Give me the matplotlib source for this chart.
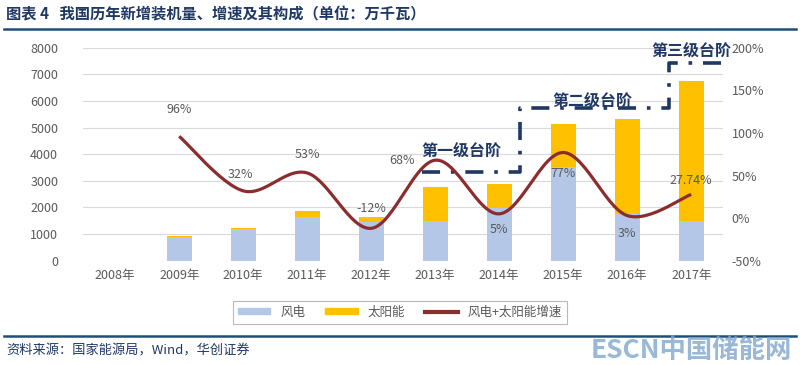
import numpy as np
import matplotlib.pyplot as plt
from matplotlib.lines import Line2D
from matplotlib.patches import Patch

plt.rcParams['font.family'] = ['Noto Sans CJK SC', 'DejaVu Sans']

years = ["2008年", "2009年", "2010年", "2011年", "2012年",
         "2013年", "2014年", "2015年", "2016年", "2017年"]
wind = [0, 900, 1190, 1650, 1465, 1490, 1966, 3530, 1740, 1490]
solar = [0, 20, 40, 215, 165, 1266, 926, 1590, 3570, 5270]
growth = [None, 96, 32, 53, -12, 68, 5, 77, 3, 27.74]
growth_labels = ["", "96%", "32%", "53%", "-12%", "68%", "5%", "77%", "3%", "27.74%"]

C_WIND = "#B4C7E7"
C_SOLAR = "#FFC000"
C_LINE = "#8B2D2D"
C_NAVY = "#1F3864"
C_TXT = "#595959"


def catmull_rom(xs, ys, n=30):
    # smooth curve through the points, like Excel's smoothed line
    px = [xs[0]] + list(xs) + [xs[-1]]
    py = [ys[0]] + list(ys) + [ys[-1]]
    out_x, out_y = [], []
    for i in range(1, len(px) - 2):
        t = np.linspace(0, 1, n)
        p0, p1, p2, p3 = [np.array([px[k], py[k]]) for k in range(i - 1, i + 3)]
        c1 = p1 + (p2 - p0) / 6
        c2 = p2 - (p3 - p1) / 6
        pts = ((1 - t) ** 3)[:, None] * p1 + (3 * (1 - t) ** 2 * t)[:, None] * c1 \
            + (3 * (1 - t) * t ** 2)[:, None] * c2 + (t ** 3)[:, None] * p2
        out_x.extend(pts[:, 0])
        out_y.extend(pts[:, 1])
    return out_x, out_y


fig = plt.figure(figsize=(8, 3.65), dpi=100)
ax = fig.add_axes([0.104, 0.2857, 0.80, 0.5836])
ax2 = ax.twinx()

x = np.arange(len(years))
ax.bar(x, wind, width=0.39, color=C_WIND, zorder=2)
ax.bar(x, solar, width=0.39, bottom=wind, color=C_SOLAR, zorder=2)

ax.set_ylim(0, 8000)
ax.set_yticks(np.arange(0, 8001, 1000))
ax.set_xlim(-0.5, len(years) - 0.5)
ax.set_xticks(x)
ax.set_xticklabels(years)
ax.grid(axis='y', color="#D9D9D9", lw=0.8, zorder=0)
ax.set_axisbelow(True)

gx = [i for i, g in enumerate(growth) if g is not None]
gy = [g for g in growth if g is not None]
sx, sy = catmull_rom(gx, gy)
ax2.plot(sx, sy, color=C_LINE, lw=2.3, solid_capstyle='butt', zorder=3)
ax2.set_ylim(-50, 200)
ax2.set_yticks(np.arange(-50, 201, 50))
ax2.set_yticklabels([f"{v}%" for v in range(-50, 201, 50)])

offsets = {1: (0, 19), 2: (-2, 12), 3: (0, 13), 4: (0, 14), 5: (-24, 0),
           6: (0, -11), 7: (0, -15), 8: (0, -13), 9: (0, 10)}
for i, lab in enumerate(growth_labels):
    if not lab:
        continue
    dx, dy = offsets[i]
    ax2.annotate(lab, (i, growth[i]), xytext=(dx, dy), textcoords='offset points',
                 ha='center', va='center', fontsize=9, color=C_TXT, zorder=4)

for a in (ax, ax2):
    for s in a.spines.values():
        s.set_visible(False)
    a.tick_params(length=0, labelsize=9, labelcolor=C_TXT)
ax.tick_params(axis='y', pad=18)
ax2.tick_params(axis='y', pad=6)
ax.tick_params(axis='x', pad=6)

# step annotations (dash-dot navy lines)
dash = dict(color=C_NAVY, lw=2.6, linestyle=(0, (5, 3, 1, 3)), clip_on=False, zorder=5)
ax.plot([4.80, 6.32, 6.32, 8.66, 8.66, 9.48],
        [3342, 3342, 5734, 5734, 7424, 7424], **dash)
step_txt = dict(fontsize=11.5, fontweight='bold', color=C_NAVY, ha='center', va='center',
                zorder=6)
ax.text(5.41, 4082, "第一级台阶", **step_txt)
ax.text(7.45, 5960, "第二级台阶", **step_txt)
ax.text(9.0, 7837, "第三级台阶", **step_txt)

handles = [Patch(color=C_WIND, label="风电"),
           Patch(color=C_SOLAR, label="太阳能"),
           Line2D([], [], color=C_LINE, lw=3, label="风电+太阳能增速")]
leg = fig.legend(handles=handles, loc='center', bbox_to_anchor=(0.5, 1 - 312 / 365),
                 ncol=3, frameon=True, fancybox=False, fontsize=9, handlelength=2.6,
                 handleheight=0.35, columnspacing=1.6, borderpad=0.4)
leg.get_frame().set_edgecolor("#A6A6A6")
leg.get_frame().set_linewidth(0.8)
for t in leg.get_texts():
    t.set_color(C_TXT)

fig.text(0.008, 1 - 14 / 365, "图表 4   我国历年新增装机量、增速及其构成（单位：万千瓦）",
         fontsize=11, fontweight='bold', color=C_NAVY, va='center')
fig.add_artist(Line2D([0.005, 0.995], [1 - 29 / 365] * 2, color="#1F4E79", lw=1.8))
fig.add_artist(Line2D([0.005, 0.995], [1 - 336 / 365] * 2, color="#1F4E79", lw=1.8))
fig.text(0.008, 1 - 351 / 365, "资料来源：国家能源局，Wind，华创证券",
         fontsize=9.5, style='italic', color=C_NAVY, va='center')
fig.text(0.99, 1 - 350 / 365, "ESCN中国储能网", fontsize=19, fontweight='bold',
         color="#7FA6CC", alpha=0.8, ha='right', va='center')

fig.savefig("out.png", dpi=100)
